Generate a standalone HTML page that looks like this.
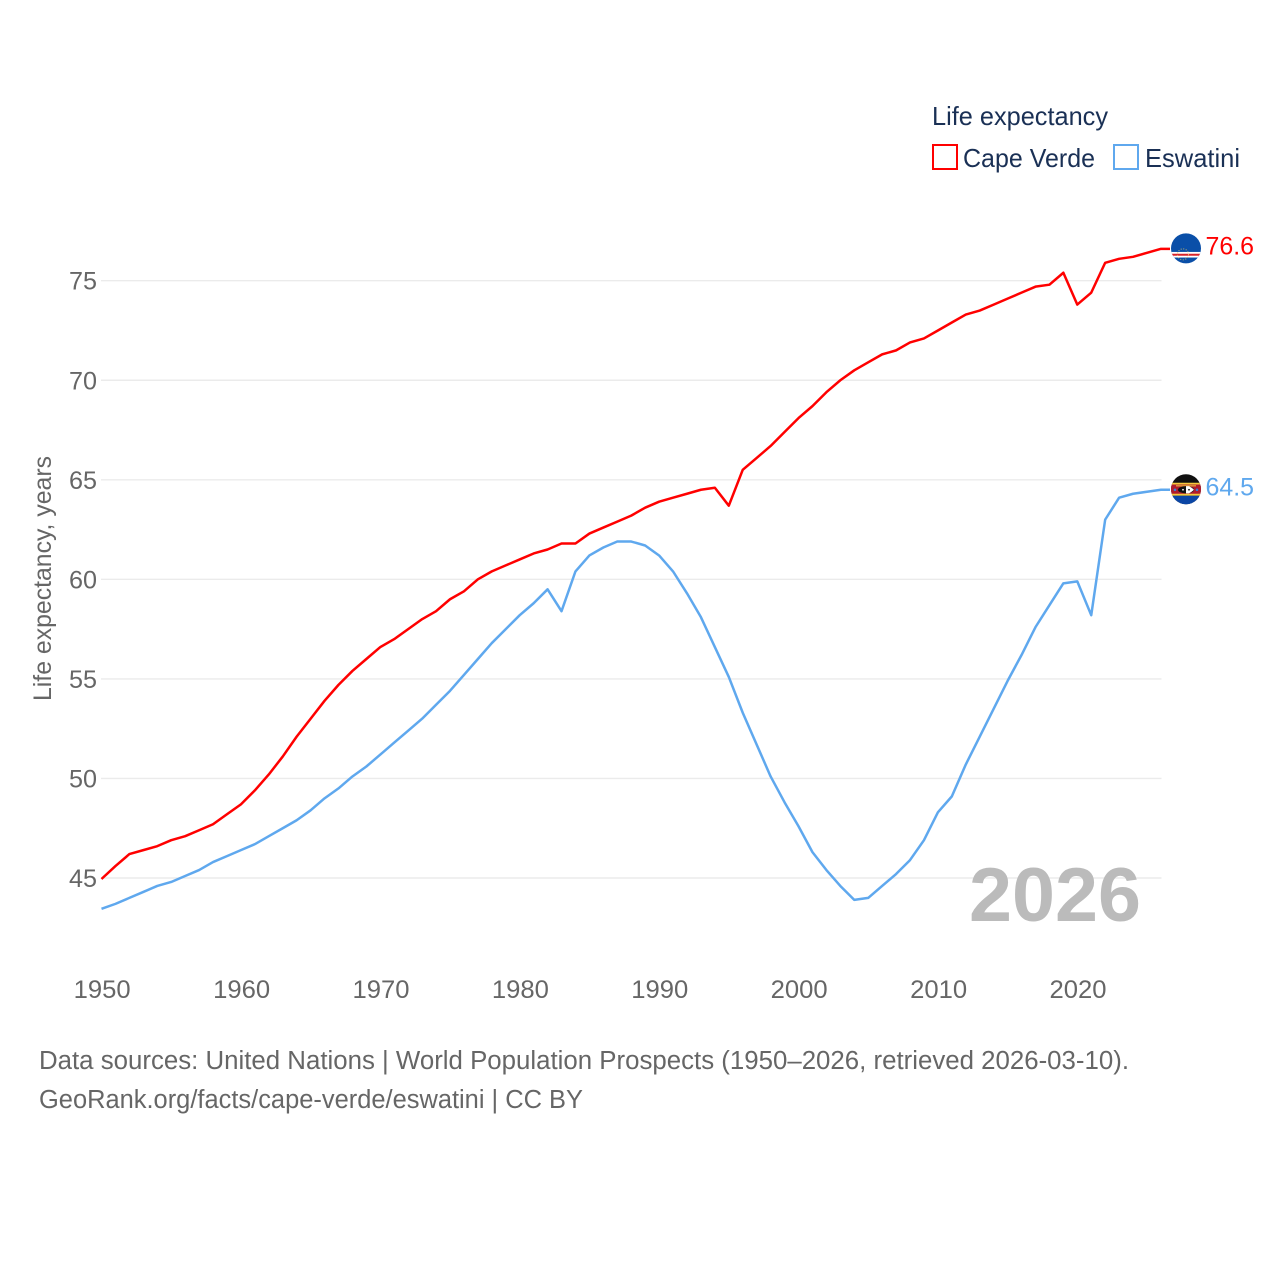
<!DOCTYPE html>
<html lang="en">
<head>
<meta charset="utf-8">
<title>Life expectancy: Cape Verde and Eswatini</title>
<style>
html,body{margin:0;padding:0;background:#fff;}
svg{display:block;font-family:"Liberation Sans",sans-serif;}
</style>
</head>
<body>
<svg id="chart" xmlns="http://www.w3.org/2000/svg" width="1280" height="1280" viewBox="0 0 1280 1280">
  <defs>
    <clipPath id="flag-clip-cv"><circle cx="0" cy="0" r="15"/></clipPath>
  </defs>
  <rect x="0" y="0" width="1280" height="1280" fill="#ffffff"/>
  <g id="grid"></g>
  <g id="yticks"></g>
  <g id="xticks"></g>
  <text transform="translate(51,701) rotate(-90)" font-size="25" fill="#666666" textLength="245" lengthAdjust="spacingAndGlyphs">Life expectancy, years</text>
  <text x="969" y="921" font-size="76" font-weight="700" fill="#bbbbbb" textLength="172" lengthAdjust="spacingAndGlyphs">2026</text>
  <g id="series"></g>
  <g id="flag-cv" clip-path="none">
    <g clip-path="url(#flag-clip-cv)">
      <rect x="-16" y="-16" width="32" height="32" fill="#0a4fa8"/>
      <rect x="-16" y="3.6" width="32" height="5.6" fill="#ffffff"/>
      <rect x="-16" y="5.4" width="32" height="2" fill="#d8232a"/>
      <circle cx="-3" cy="6" r="5.5" fill="none" stroke="#e8c860" stroke-width="1" stroke-dasharray="1 1.6" opacity="0.8"/>
    </g>
  </g>
  <g id="flag-sz">
    <g clip-path="url(#flag-clip-cv)">
      <rect x="-16" y="-16" width="32" height="32" fill="#111111"/>
      <rect x="-16" y="-6.5" width="32" height="2" fill="#f5c93d"/>
      <rect x="-16" y="-4.7" width="32" height="10.4" fill="#b01c2e"/>
      <rect x="-16" y="4.5" width="32" height="2" fill="#f5c93d"/>
      <rect x="-16" y="6.5" width="32" height="10" fill="#0b46a5"/>
      <rect x="-10" y="-3.9" width="20" height="1" fill="#f5c93d"/>
      <ellipse cx="0" cy="0.5" rx="8" ry="3.6" fill="#111111"/>
      <path d="M0 -3.1 H3 Q6 -1.5 8 0.5 Q6 2.5 3 4.1 H0 Z" fill="#ffffff"/>
      <circle cx="-3" cy="0.5" r="0.9" fill="#ffffff"/>
      <circle cx="3" cy="0.5" r="0.9" fill="#111111"/>
      <circle cx="-11" cy="0.5" r="1.3" fill="#3f7fd0"/>
      <circle cx="11" cy="0.5" r="1.3" fill="#3f7fd0"/>
    </g>
  </g>
  <g id="endlabels"></g>

  <g>
    <text x="932" y="125" font-size="26" fill="#1a3055" textLength="176" lengthAdjust="spacingAndGlyphs">Life expectancy</text>
    <g>
      <rect x="933" y="145" width="24" height="24" fill="#ffffff" stroke="#ff0000" stroke-width="2"/>
      <text x="963" y="167" font-size="26" fill="#1a3055" textLength="132" lengthAdjust="spacingAndGlyphs">Cape Verde</text>
    </g>
    <g>
      <rect x="1114" y="145" width="24" height="24" fill="#ffffff" stroke="#5fa8ee" stroke-width="2"/>
      <text x="1145" y="167" font-size="26" fill="#1a3055" textLength="95" lengthAdjust="spacingAndGlyphs">Eswatini</text>
    </g>
  </g>

  <g>
    <text x="39" y="1069" font-size="25.5" fill="#666666" textLength="1090" lengthAdjust="spacingAndGlyphs">Data sources: United Nations | World Population Prospects (1950–2026, retrieved 2026-03-10).</text>
    <text x="39" y="1108" font-size="25.5" fill="#666666" textLength="544" lengthAdjust="spacingAndGlyphs">GeoRank.org/facts/cape-verde/eswatini | CC BY</text>
  </g>
</svg>
<script>
const startYear = 1950;
const capeVerde = [44.95,45.6,46.2,46.4,46.6,46.9,47.1,47.4,47.7,48.2,48.7,49.4,50.2,51.1,52.1,53.0,53.9,54.7,55.4,56.0,56.6,57.0,57.5,58.0,58.4,59.0,59.4,60.0,60.4,60.7,61.0,61.3,61.5,61.8,61.8,62.3,62.6,62.9,63.2,63.6,63.9,64.1,64.3,64.5,64.6,63.7,65.5,66.1,66.7,67.4,68.1,68.7,69.4,70.0,70.5,70.9,71.3,71.5,71.9,72.1,72.5,72.9,73.3,73.5,73.8,74.1,74.4,74.7,74.8,75.4,73.8,74.4,75.9,76.1,76.2,76.4,76.6];
const eswatini = [43.45,43.7,44.0,44.3,44.6,44.8,45.1,45.4,45.8,46.1,46.4,46.7,47.1,47.5,47.9,48.4,49.0,49.5,50.1,50.6,51.2,51.8,52.4,53.0,53.7,54.4,55.2,56.0,56.8,57.5,58.2,58.8,59.5,58.4,60.4,61.2,61.6,61.9,61.9,61.7,61.2,60.4,59.3,58.1,56.6,55.1,53.3,51.7,50.1,48.8,47.6,46.3,45.4,44.6,43.9,44.0,44.6,45.2,45.9,46.9,48.3,49.1,50.7,52.1,53.5,54.9,56.2,57.6,58.7,59.8,59.9,58.2,63.0,64.1,64.3,64.4,64.5];
const yTickLabels = [45,50,55,60,65,70,75];
const xTickLabels = [1950,1960,1970,1980,1990,2000,2010,2020];

const NS = 'http://www.w3.org/2000/svg';
const xScale = function (year) { return 101.5 + (year - 1950) * 13.94; };
const yScale = function (v) { return 878 - (v - 45) * 19.91; };

const grid = document.getElementById('grid');
const yticks = document.getElementById('yticks');
const xticks = document.getElementById('xticks');
const series = document.getElementById('series');
const endlabels = document.getElementById('endlabels');

yTickLabels.forEach(function (t) {
  const line = document.createElementNS(NS, 'line');
  
  
  line.setAttribute('x1', 101);
  line.setAttribute('x2', 1161.5);
  line.setAttribute('y1', yScale(t));
  line.setAttribute('y2', yScale(t));
  line.setAttribute('stroke', '#ebebeb');
  line.setAttribute('stroke-width', 1.4);
  grid.appendChild(line);

  const label = document.createElementNS(NS, 'text');
  
  
  label.setAttribute('x', 69);
  label.setAttribute('y', yScale(t) + 9);
  label.setAttribute('font-size', 25);
  label.setAttribute('fill', '#666666');
  label.setAttribute('textLength', 28);
  label.setAttribute('lengthAdjust', 'spacingAndGlyphs');
  label.textContent = String(t);
  yticks.appendChild(label);
});

xTickLabels.forEach(function (t) {
  const label = document.createElementNS(NS, 'text');
  
  
  label.setAttribute('x', xScale(t) - 28.5 + 0.7);
  label.setAttribute('y', 998);
  label.setAttribute('font-size', 25);
  label.setAttribute('fill', '#666666');
  label.setAttribute('textLength', 57);
  label.setAttribute('lengthAdjust', 'spacingAndGlyphs');
  label.textContent = String(t);
  xticks.appendChild(label);
});

function drawSeries(values, color, flagId) {
  const last = values.length - 1;
  const pts = values.map(function (v, i) {
    return xScale(startYear + i).toFixed(2) + ',' + yScale(v).toFixed(2);
  });
  const lastY = yScale(values[last]);
  pts.push('1170,' + lastY.toFixed(2));
  const line = document.createElementNS(NS, 'polyline');
  
  
  line.setAttribute('points', pts.join(' '));
  line.setAttribute('fill', 'none');
  line.setAttribute('stroke', color);
  line.setAttribute('stroke-width', 2.5);
  line.setAttribute('stroke-linejoin', 'round');
  series.appendChild(line);

  document.getElementById(flagId).setAttribute('transform', 'translate(1186,' + (lastY - 0.5).toFixed(2) + ')');

  const label = document.createElementNS(NS, 'text');
  
  
  label.setAttribute('x', 1205.5);
  label.setAttribute('y', lastY + 5.5);
  label.setAttribute('font-size', 25);
  label.setAttribute('fill', color);
  label.setAttribute('textLength', 48.5);
  label.setAttribute('lengthAdjust', 'spacingAndGlyphs');
  label.textContent = values[last].toFixed(1);
  endlabels.appendChild(label);
}

drawSeries(eswatini, '#5fa8ee', 'flag-sz');
drawSeries(capeVerde, '#ff0000', 'flag-cv');
</script>
</body>
</html>
